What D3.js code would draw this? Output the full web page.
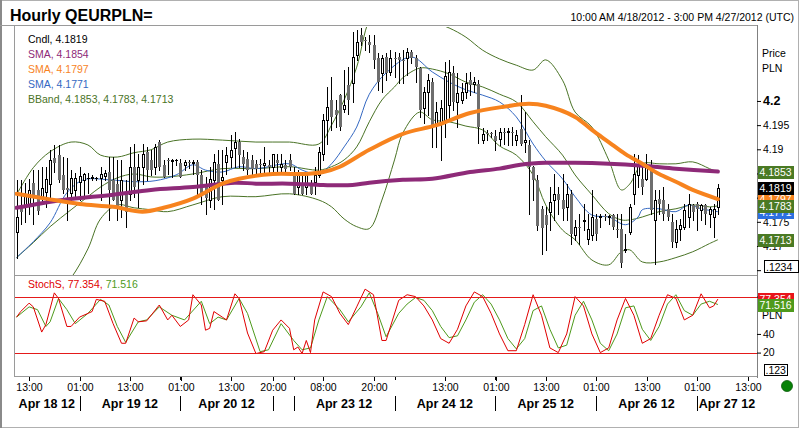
<!DOCTYPE html>
<html><head><meta charset="utf-8">
<script src="https://cdn.jsdelivr.net/npm/d3@7/dist/d3.min.js"></script>
<style>
body{margin:0;background:#fff}
svg{display:block}
text{font-family:"Liberation Sans",Arial,sans-serif}
</style></head>
<body><svg id="c" width="800" height="431"></svg>
<script>
// ---------------- DATA ----------------
const title = "Hourly QEURPLN=";
const rangeText = "10:00 AM 4/18/2012 - 3:00 PM 4/27/2012 (UTC)";
// trading sessions: [date label, first hour, last hour]
const sessions = [["Apr 18 12",9,23],["Apr 19 12",0,23],["Apr 20 12",0,21],["Apr 22 12",19,23],
  ["Apr 23 12",0,23],["Apr 24 12",0,23],["Apr 25 12",0,23],["Apr 26 12",0,23],["Apr 27 12",0,5]];

const opens=[4.1729,4.1785,4.1785,4.1785,4.1831,4.1816,4.1802,4.1812,4.1829,4.1882,
4.1888,4.1847,4.1820,4.1810,4.1816,4.1833,4.1837,4.1841,4.1841,4.1841,
4.1841,4.1845,4.1853,4.1837,4.1829,4.1795,4.1808,4.1808,4.1864,4.1837,
4.1864,4.1895,4.1878,4.1864,4.1915,4.1868,4.1878,4.1876,4.1878,4.1872,
4.1868,4.1874,4.1872,4.1874,4.1847,4.1826,4.1795,4.1837,4.1870,4.1837,
4.1874,4.1884,4.1903,4.1915,4.1884,4.1880,4.1878,4.1870,4.1870,4.1868,
4.1868,4.1864,4.1878,4.1864,4.1868,4.1878,4.1847,4.1822,4.1829,4.1822,
4.1826,4.1833,4.1847,4.1890,4.1961,4.2002,4.1981,4.2012,4.1983,4.2033,
4.2037,4.2095,4.2136,4.2126,4.2122,4.2116,4.2089,4.2058,4.2091,4.2060,
4.2089,4.2091,4.2085,4.2089,4.2101,4.2089,4.2068,4.1986,4.2019,4.2039,
4.1950,4.1952,4.1957,4.1992,4.2058,4.1998,4.2002,4.2019,4.2043,4.2035,
4.2035,4.1919,4.1934,4.1934,4.1928,4.1921,4.1936,4.1936,4.1936,4.1919,
4.1942,4.1915,4.1909,4.1864,4.1837,4.1777,4.1764,4.1771,4.1795,4.1808,
4.1795,4.1781,4.1808,4.1723,4.1740,4.1752,4.1715,4.1723,4.1756,4.1760,
4.1762,4.1762,4.1764,4.1736,4.1736,4.1692,4.1729,4.1808,4.1847,4.1839,
4.1839,4.1868,4.1754,4.1798,4.1795,4.1777,4.1750,4.1709,4.1736,4.1740,
4.1760,4.1785,4.1787,4.1775,4.1785,4.1767,4.1760,4.1781];
const highs=[4.1837,4.1837,4.1831,4.1839,4.1857,4.1857,4.1864,4.1864,4.1899,4.1909,
4.1909,4.1884,4.1882,4.1857,4.1851,4.1864,4.1851,4.1851,4.1847,4.1843,
4.1864,4.1857,4.1884,4.1884,4.1878,4.1878,4.1837,4.1905,4.1911,4.1890,
4.1911,4.1905,4.1899,4.1911,4.1919,4.1878,4.1882,4.1880,4.1880,4.1880,
4.1878,4.1878,4.1878,4.1878,4.1857,4.1843,4.1864,4.1890,4.1899,4.1899,
4.1905,4.1930,4.1936,4.1921,4.1899,4.1895,4.1888,4.1878,4.1880,4.1905,
4.1878,4.1890,4.1890,4.1890,4.1878,4.1890,4.1864,4.1857,4.1849,4.1849,
4.1837,4.1864,4.1905,4.1973,4.2029,4.2050,4.2002,4.2014,4.2064,4.2070,
4.2143,4.2147,4.2151,4.2132,4.2136,4.2136,4.2099,4.2095,4.2099,4.2105,
4.2101,4.2099,4.2105,4.2110,4.2105,4.2095,4.2070,4.2029,4.2056,4.2048,
4.1998,4.2002,4.2081,4.2085,4.2072,4.2058,4.2037,4.2058,4.2060,4.2050,
4.2043,4.1944,4.1940,4.1936,4.1940,4.1944,4.1944,4.1944,4.1946,4.1940,
4.2012,4.1977,4.1919,4.1866,4.1847,4.1783,4.1781,4.1822,4.1849,4.1822,
4.1849,4.1829,4.1816,4.1754,4.1767,4.1787,4.1767,4.1816,4.1767,4.1767,
4.1767,4.1764,4.1767,4.1767,4.1767,4.1725,4.1787,4.1890,4.1888,4.1864,
4.1890,4.1878,4.1816,4.1816,4.1822,4.1787,4.1767,4.1754,4.1756,4.1787,
4.1808,4.1787,4.1791,4.1787,4.1787,4.1781,4.1787,4.1829];
const lows=[4.1676,4.1746,4.1750,4.1767,4.1746,4.1767,4.1787,4.1781,4.1802,4.1853,
4.1833,4.1810,4.1754,4.1795,4.1802,4.1795,4.1802,4.1810,4.1837,4.1837,
4.1795,4.1837,4.1754,4.1795,4.1754,4.1760,4.1740,4.1795,4.1802,4.1781,
4.1829,4.1837,4.1847,4.1849,4.1857,4.1843,4.1849,4.1843,4.1868,4.1843,
4.1857,4.1862,4.1849,4.1808,4.1787,4.1767,4.1781,4.1777,4.1795,4.1787,
4.1849,4.1864,4.1864,4.1864,4.1857,4.1849,4.1849,4.1849,4.1849,4.1849,
4.1849,4.1847,4.1849,4.1849,4.1853,4.1857,4.1808,4.1808,4.1808,4.1808,
4.1808,4.1808,4.1843,4.1878,4.1911,4.1940,4.1946,4.1940,4.1977,4.1973,
4.1998,4.2085,4.2116,4.2105,4.2101,4.2068,4.2023,4.2019,4.2043,4.2054,
4.2050,4.2037,4.2037,4.2054,4.2079,4.2039,4.1967,4.1955,4.1971,4.1905,
4.1905,4.1878,4.1926,4.1961,4.1981,4.1946,4.1996,4.2006,4.2012,4.2019,
4.1913,4.1913,4.1919,4.1926,4.1899,4.1909,4.1911,4.1909,4.1909,4.1909,
4.1909,4.1895,4.1767,4.1795,4.1733,4.1684,4.1692,4.1733,4.1754,4.1767,
4.1754,4.1754,4.1705,4.1713,4.1705,4.1733,4.1705,4.1713,4.1713,4.1740,
4.1754,4.1746,4.1736,4.1719,4.1657,4.1688,4.1725,4.1787,4.1822,4.1808,
4.1837,4.1767,4.1663,4.1767,4.1754,4.1754,4.1698,4.1698,4.1713,4.1736,
4.1740,4.1754,4.1733,4.1754,4.1746,4.1740,4.1719,4.1767];
const closes=[4.1760,4.1771,4.1804,4.1816,4.1802,4.1773,4.1820,4.1839,4.1878,4.1872,
4.1837,4.1816,4.1816,4.1841,4.1841,4.1845,4.1849,4.1841,4.1843,4.1841,
4.1849,4.1851,4.1816,4.1795,4.1781,4.1837,4.1771,4.1864,4.1822,4.1864,
4.1890,4.1857,4.1857,4.1905,4.1864,4.1843,4.1876,4.1878,4.1878,4.1843,
4.1874,4.1872,4.1874,4.1847,4.1808,4.1800,4.1839,4.1874,4.1795,4.1843,
4.1888,4.1899,4.1915,4.1888,4.1870,4.1857,4.1860,4.1860,4.1868,4.1872,
4.1864,4.1890,4.1872,4.1870,4.1860,4.1864,4.1808,4.1849,4.1808,4.1847,
4.1808,4.1847,4.1895,4.1961,4.1988,4.1967,4.1971,4.1946,4.1992,4.2002,
4.2091,4.2122,4.2122,4.2124,4.2116,4.2085,4.2039,4.2089,4.2058,4.2089,
4.2088,4.2085,4.2084,4.2101,4.2089,4.2070,4.1981,4.2019,4.2043,4.1946,
4.1977,4.1986,4.2052,4.2060,4.1998,4.2017,4.2019,4.2037,4.2033,4.2039,
4.1946,4.1932,4.1933,4.1932,4.1917,4.1936,4.1935,4.1937,4.1935,4.1930,
4.1911,4.1919,4.1864,4.1837,4.1742,4.1738,4.1744,4.1791,4.1808,4.1795,
4.1777,4.1808,4.1725,4.1740,4.1739,4.1754,4.1736,4.1760,4.1725,4.1762,
4.1761,4.1763,4.1740,4.1733,4.1665,4.1694,4.1781,4.1849,4.1870,4.1822,
4.1870,4.1775,4.1795,4.1787,4.1767,4.1760,4.1709,4.1736,4.1744,4.1775,
4.1787,4.1771,4.1777,4.1785,4.1767,4.1777,4.1777,4.1819];

// indicator lines, read at sample bars
const smaPurpleBar=[0,11,23,32,42,52,57,65,73,80,84,92,99,108,115,120,126,133,141,149,157,167];
const smaPurple=[4.1779,4.1795,4.1806,4.1816,4.1822,4.1831,4.1829,4.1829,4.1826,4.1826,4.1831,4.1837,4.1839,4.1853,4.1860,4.1868,4.1872,4.1872,4.1870,4.1866,4.1860,4.1854];
const smaOrangeBar=[0,7,15,23,30,35,42,49,53,61,69,73,77,84,92,100,108,116,122,126,133,137,141,145,149,153,157,161,167];
const smaOrange=[4.1808,4.1798,4.1787,4.1781,4.1771,4.1779,4.1798,4.1829,4.1839,4.1849,4.1849,4.1853,4.1864,4.1899,4.1932,4.1950,4.1975,4.1988,4.1994,4.1990,4.1967,4.1940,4.1915,4.1890,4.1870,4.1849,4.1833,4.1816,4.1797];
const smaBlueBar=[0,4,8,12,16,22,28,33,38,42,45,49,53,57,65,68,72,75,78,81,84,88,94,99,103,107,111,115,119,123,126,130,133,137,141,145,148,149,153,157,160,163,167];
const smaBlue=[4.1676,4.1709,4.1748,4.1810,4.1837,4.1837,4.1833,4.1835,4.1847,4.1868,4.1857,4.1853,4.1864,4.1860,4.1870,4.1857,4.1849,4.1870,4.1905,4.1946,4.2014,4.2058,4.2091,4.2060,4.2039,4.2023,4.2012,4.1998,4.1967,4.1911,4.1876,4.1839,4.1802,4.1764,4.1760,4.1744,4.1760,4.1775,4.1777,4.1771,4.1785,4.1777,4.1771];
const bbBar=[0,4,8,13,17,20,24,28,32,36,42,49,57,65,72,75,78,81,84,87,90,92,96,99,103,107,111,115,119,123,126,130,133,137,141,144,146,149,153,157,161,165,167];
const bbUpper=[4.1806,4.1862,4.1895,4.1915,4.1909,4.1888,4.1884,4.1893,4.1899,4.1915,4.1921,4.1919,4.1915,4.1915,4.1911,4.1950,4.2002,4.2070,4.2167,4.2198,4.2184,4.2172,4.2167,4.2163,4.2151,4.2132,4.2105,4.2087,4.2074,4.2064,4.2085,4.2043,4.1977,4.1946,4.1878,4.1816,4.1828,4.1870,4.1870,4.1870,4.1874,4.1860,4.1853];
const bbMid=[4.1676,4.1707,4.1740,4.1775,4.1802,4.1822,4.1841,4.1849,4.1843,4.1843,4.1849,4.1860,4.1860,4.1864,4.1857,4.1864,4.1878,4.1905,4.1957,4.2002,4.2029,4.2048,4.2068,4.2066,4.2056,4.2039,4.2029,4.2014,4.1998,4.1957,4.1926,4.1888,4.1847,4.1806,4.1767,4.1754,4.1754,4.1760,4.1771,4.1777,4.1785,4.1781,4.1783];
const bbLower=[4.1545,4.1552,4.1585,4.1634,4.1694,4.1756,4.1785,4.1779,4.1775,4.1771,4.1785,4.1802,4.1802,4.1808,4.1795,4.1781,4.1756,4.1740,4.1736,4.1795,4.1878,4.1934,4.1977,4.1961,4.1957,4.1948,4.1940,4.1907,4.1888,4.1847,4.1785,4.1733,4.1713,4.1671,4.1661,4.1688,4.1692,4.1667,4.1667,4.1676,4.1688,4.1705,4.1713];

// slow stochastic, read at sample bars
const stochKBar=[0,1,3,4,6,7,9,10,12,13,15,18,19,21,23,25,26,28,29,31,34,36,37,39,41,42,44,45,46,47,49,50,52,53,55,57,59,61,63,65,66,67,68,69,70,71,73,75,77,79,81,83,85,87,88,91,93,95,97,99,101,103,105,107,109,111,113,115,117,119,121,123,125,127,129,131,133,135,137,139,141,143,145,147,149,151,153,155,157,159,161,163,165,166,167];
const stochK=[58,64,73,69,42,50,84,78,48,48,58,64,77,75,51,30,30,57,53,54,71,55,60,48,55,82,71,44,46,64,58,55,83,78,41,19,21,44,55,46,23,26,19,33,20,55,85,80,62,50,69,88,82,33,33,76,82,80,70,55,35,30,45,70,85,80,62,40,22,22,50,82,60,25,20,40,80,70,40,20,25,55,78,60,30,35,60,82,78,55,60,83,68,70,77.354];
const stochDBar=[0,3,5,7,8,10,12,14,17,20,22,24,26,29,31,34,37,40,44,46,48,50,53,55,58,60,63,66,68,70,72,74,77,79,82,84,86,88,91,93,95,97,99,101,103,105,107,109,111,113,115,117,119,121,123,125,127,129,131,133,135,137,139,141,143,145,147,149,151,153,155,157,159,161,163,165,167];
const stochD=[58,69,66,48,53,78,66,51,62,77,71,48,31,53,55,69,60,55,75,51,58,55,78,62,21,23,51,33,23,25,55,80,66,53,69,84,62,37,62,72,79,76,65,48,36,38,55,74,82,72,55,35,24,35,65,70,45,25,28,60,75,55,30,22,40,68,70,45,33,48,72,82,65,60,72,75,71.516];

const priceTicks=[4.165,4.17,4.175,4.18,4.185,4.19,4.195,4.2];
const priceTickShown=[4.17,4.175,4.19,4.195,4.2];   // the others sit under the value boxes
const stochTicks=[20,40,80];
const stochTickShown=[20,40];
const stochLevels=[80,20];
const hourTickBar=[4,16,28,40,52,62,74,86,103,115,127,139,151,163,175];
const hourTickLabel=["13:00","01:00","13:00","01:00","13:00","20:00","08:00","20:00","13:00","01:00","13:00","01:00","13:00","01:00","13:00"];

// ---------------- LAYOUT / STYLE ----------------
const C={purple:"#8E2A78",orange:"#F7831E",blue:"#3468C2",bb:"#4A7326",bbBox:"#4A7A24",
  down:"#6E6E6E",red:"#E00000",sgreen:"#4E9A1C",frame:"#9a9a9a",axis:"#808080"};
const P={l:14,r:757,t:26,mid:275,b:376};
const svg=d3.select("#c");
const x=d3.scaleLinear().domain([0,167]).range([16.5,717.9]);
const y=d3.scaleLinear().domain([4.164,4.2153]).range([275,27]);
const ys=d3.scaleLinear().domain([-4,104]).range([375,274.2]);

// bar timeline
const bars=[];
sessions.forEach(([lab,h0,h1])=>{for(let h=h0;h<=h1;h++)bars.push({day:lab,hour:h});});
bars.forEach((b,i)=>{b.i=i;b.o=opens[i];b.h=highs[i];b.l=lows[i];b.c=closes[i];});

const defs=svg.append("defs");
defs.append("clipPath").attr("id","cm").append("rect").attr("x",P.l+1).attr("y",P.t+1).attr("width",P.r-P.l-1).attr("height",P.mid-P.t-1);
defs.append("clipPath").attr("id","cs").append("rect").attr("x",P.l+1).attr("y",P.mid+1).attr("width",P.r-P.l-1).attr("height",P.b-P.mid-1);

// frame
svg.append("rect").attr("x",0.5).attr("y",0.5).attr("width",798).attr("height",427).attr("fill","none").attr("stroke","#b0b0b0");
svg.append("line").attr("x1",1).attr("x2",1).attr("y1",0).attr("y2",428).attr("stroke","#8a8a8a").attr("stroke-width",2);
svg.append("line").attr("x1",0).attr("x2",P.r).attr("y1",P.t-0.5).attr("y2",P.t-0.5).attr("stroke",C.frame);
svg.append("line").attr("x1",P.l+0.5).attr("x2",P.l+0.5).attr("y1",P.t).attr("y2",P.b).attr("stroke",C.frame);
svg.append("line").attr("x1",P.l).attr("x2",P.r).attr("y1",P.mid+0.5).attr("y2",P.mid+0.5).attr("stroke",C.frame);
svg.append("line").attr("x1",P.l).attr("x2",P.r).attr("y1",P.b+0.5).attr("y2",P.b+0.5).attr("stroke",C.frame);
svg.append("line").attr("x1",P.r+0.5).attr("x2",P.r+0.5).attr("y1",P.t-1).attr("y2",P.b+2).attr("stroke",C.axis);

// titles
svg.append("text").attr("x",10).attr("y",20.5).attr("font-size",16).attr("font-weight","bold").text(title);
svg.append("text").attr("x",794).attr("y",21).attr("text-anchor","end").attr("font-size",10.5).text(rangeText);

// ---------------- MAIN PANEL ----------------
const gm=svg.append("g").attr("clip-path","url(#cm)");
const line=(xs,vs,sc)=>d3.line().x((d,k)=>x(xs[k])).y(d=>sc(d)).curve(d3.curveCatmullRom.alpha(0.5))(vs);
[bbUpper,bbMid,bbLower].forEach(arr=>{
  gm.append("path").attr("d",line(bbBar,arr,y)).attr("fill","none").attr("stroke",C.bb).attr("stroke-width",1);
});
gm.append("path").attr("d",line(smaBlueBar,smaBlue,y)).attr("fill","none").attr("stroke",C.blue).attr("stroke-width",1);

// candles
const cx=d=>Math.round(x(d.i));
gm.selectAll("line.w").data(bars).join("line").attr("class","w")
  .attr("x1",d=>cx(d)+0.5).attr("x2",d=>cx(d)+0.5)
  .attr("y1",d=>Math.round(y(d.h))).attr("y2",d=>Math.round(y(d.l))+1)
  .attr("stroke","#000").attr("stroke-width",1);
gm.selectAll("rect.b").data(bars).join("rect").attr("class","b")
  .each(function(d){
    const yo=Math.round(y(d.o)), yc=Math.round(y(d.c)), s=d3.select(this);
    if(d.c>d.o){ // up: hollow
      s.attr("x",cx(d)-0.5).attr("y",yc+0.5).attr("width",2).attr("height",Math.max(1,yo-yc))
       .attr("fill","#fff").attr("stroke","#000").attr("stroke-width",1);
    } else if(d.c<d.o){
      s.attr("x",cx(d)-1).attr("y",yo).attr("width",3).attr("height",Math.max(1,yc-yo)).attr("fill",C.down);
    } else {
      s.attr("x",cx(d)-1).attr("y",yo).attr("width",3).attr("height",1).attr("fill","#000");
    }
  });

gm.append("path").attr("d",line(smaPurpleBar,smaPurple,y)).attr("fill","none").attr("stroke",C.purple).attr("stroke-width",4).attr("stroke-linecap","round");
gm.append("path").attr("d",line(smaOrangeBar,smaOrange,y)).attr("fill","none").attr("stroke",C.orange).attr("stroke-width",4).attr("stroke-linecap","round");

// legend
const f4=d3.format(".4f");
const leg=[["Cndl, "+f4(closes[closes.length-1]),"#000"],
  ["SMA, "+f4(smaPurple[smaPurple.length-1]),C.purple],
  ["SMA, "+f4(smaOrange[smaOrange.length-1]),C.orange],
  ["SMA, "+f4(smaBlue[smaBlue.length-1]),C.blue],
  ["BBand, "+[bbUpper,bbMid,bbLower].map(a=>f4(a[a.length-1])).join(", "),C.bb]];
svg.selectAll("text.leg").data(leg).join("text").attr("class","leg")
  .attr("x",28).attr("y",(d,k)=>42.7+15*k).attr("font-size",10.5).attr("fill",d=>d[1]).text(d=>d[0]);

// right axis
const ax=svg.append("g").attr("transform",`translate(${P.r},0)`)
  .call(d3.axisRight(y).tickValues(priceTicks).tickSize(4).tickPadding(2)
    .tickFormat(d=>priceTickShown.includes(d)?String(+d.toFixed(3)):""));
ax.select(".domain").remove();
ax.selectAll(".tick line").attr("stroke","#000");
ax.selectAll(".tick text").attr("font-size",10.5).attr("font-family","Liberation Sans, Arial, sans-serif").attr("fill","#000")
  .filter(d=>d===4.2).attr("font-size",12.5).attr("font-weight","bold");
svg.append("text").attr("x",762).attr("y",56.5).attr("font-size",10.5).text("Price");
svg.append("text").attr("x",762).attr("y",71.5).attr("font-size",10.5).text("PLN");

// value boxes
const boxes=[[smaPurple[smaPurple.length-1],C.purple],[smaOrange[smaOrange.length-1],C.orange],
  [smaBlue[smaBlue.length-1],"#2C6FE0"],[closes[closes.length-1],"#000"],
  [bbUpper[bbUpper.length-1],C.bbBox],[bbMid[bbMid.length-1],C.bbBox],[bbLower[bbLower.length-1],C.bbBox]];
boxes.forEach(([v,col])=>{
  const yy=Math.round(y(v));
  svg.append("rect").attr("x",758).attr("y",yy-6).attr("width",36).attr("height",13).attr("fill",col);
  svg.append("text").attr("x",759.5).attr("y",yy+4).attr("font-size",10.5).attr("fill","#fff").text(f4(v));
});
svg.append("rect").attr("x",764.5).attr("y",260.5).attr("width",34).attr("height",12).attr("fill","#fff").attr("stroke","#000");
svg.append("text").attr("x",766).attr("y",270.5).attr("font-size",10.5).text(".1234");

// ---------------- STOCH PANEL ----------------
const gs=svg.append("g").attr("clip-path","url(#cs)");
const sline=(xs,vs)=>d3.line().x((d,k)=>x(xs[k])).y(d=>ys(d))(vs);
gs.append("path").attr("d",sline(stochDBar,stochD)).attr("fill","none").attr("stroke",C.sgreen).attr("stroke-width",1);
gs.append("path").attr("d",sline(stochKBar,stochK)).attr("fill","none").attr("stroke",C.red).attr("stroke-width",1);
// overbought / oversold levels (drawn as thin red rects for crisp colour)
stochLevels.forEach(v=>{
  svg.append("rect").attr("x",P.l+1).attr("y",Math.round(ys(v))).attr("width",P.r-P.l-1).attr("height",1)
    .attr("fill","#e41a1a").attr("shape-rendering","crispEdges");
});

const st=svg.append("text").attr("x",28).attr("y",287.5).attr("font-size",10.5);
st.append("tspan").attr("fill",C.red).text("StochS, "+d3.format(".3f")(stochK[stochK.length-1])+", ");
st.append("tspan").attr("fill",C.sgreen).text(d3.format(".3f")(stochD[stochD.length-1]));

const as=svg.append("g").attr("transform",`translate(${P.r},0)`)
  .call(d3.axisRight(ys).tickValues(stochTicks).tickSize(4).tickPadding(2)
    .tickFormat(d=>stochTickShown.includes(d)?String(d):""));
as.select(".domain").remove();
as.selectAll(".tick line").attr("stroke","#000");
as.selectAll(".tick text").attr("font-size",10.5).attr("font-family","Liberation Sans, Arial, sans-serif").attr("fill","#000");
svg.append("text").attr("x",762).attr("y",318.5).attr("font-size",10.5).text("PLN");
[[stochK[stochK.length-1],"#E8141A"],[stochD[stochD.length-1],C.sgreen]].forEach(([v,col])=>{
  const yy=Math.round(ys(v));
  svg.append("rect").attr("x",758).attr("y",yy-6).attr("width",36).attr("height",13).attr("fill",col);
  svg.append("text").attr("x",759.5).attr("y",yy+4).attr("font-size",10.5).attr("fill","#fff").text(d3.format(".3f")(v));
});
svg.append("rect").attr("x",764.5).attr("y",364.5).attr("width",23).attr("height",11).attr("fill","#fff").attr("stroke","#000");
svg.append("text").attr("x",765.5).attr("y",373.5).attr("font-size",10.5).text(".123");

// ---------------- TIME AXIS ----------------
const ta=svg.append("g");
hourTickBar.forEach((b,k)=>{
  const xx=Math.round(x(b)-4);
  ta.append("line").attr("x1",xx+0.5).attr("x2",xx+0.5).attr("y1",P.b+1).attr("y2",P.b+5).attr("stroke","#000");
  ta.append("text").attr("x",xx+0.5).attr("y",390.5).attr("text-anchor","middle").attr("font-size",10.5).text(hourTickLabel[k]);
});
const dayStarts=[];
bars.forEach((b,i)=>{if(i===0||bars[i-1].day!==b.day)dayStarts.push({day:b.day,i});});
dayStarts.forEach((d,k)=>{
  const left=k===0?P.l:x(d.i);
  const right=k===dayStarts.length-1?P.r:x(dayStarts[k+1].i);
  if(k>0){
    const xx=Math.round(x(d.i))+0.5;
    ta.append("line").attr("x1",xx).attr("x2",xx).attr("y1",P.b+1).attr("y2",P.b+4).attr("stroke","#000");
    ta.append("line").attr("x1",xx).attr("x2",xx).attr("y1",396).attr("y2",411).attr("stroke","#000");
  }
  if(right-left>60){
    ta.append("text").attr("x",(left+right)/2).attr("y",407.5).attr("text-anchor","middle")
      .attr("font-size",12.5).attr("font-weight","bold").text(d.day);
  }
});
svg.append("circle").attr("cx",787).attr("cy",386).attr("r",5.5).attr("fill","#078207").attr("stroke","#0a5a0a").attr("stroke-width",0.8);
</script></body></html>
